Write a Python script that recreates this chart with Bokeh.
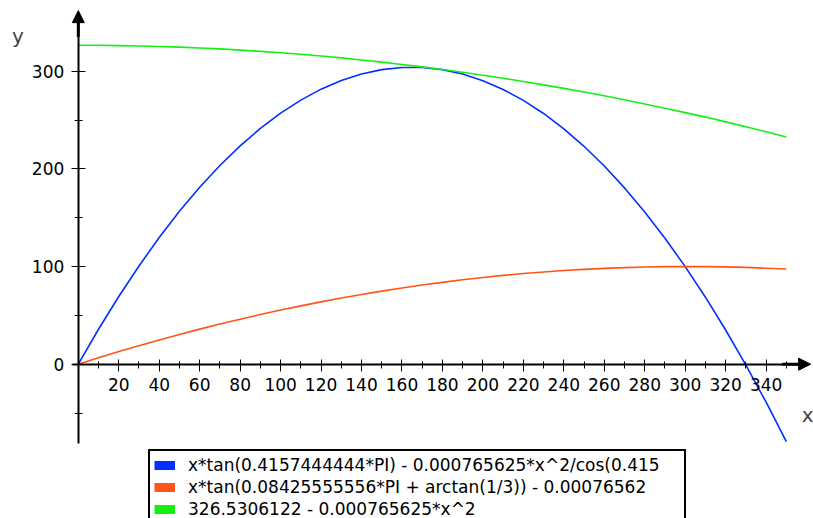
from bokeh.plotting import figure
from bokeh.models import (FixedTicker, Arrow, NormalHead, Label, Legend,
                          LegendItem, Range1d, LinearAxis)
from bokeh.embed import file_html
from bokeh.resources import INLINE

# ---- data ----
x_vals = [0, 10, 20, 30, 40, 50, 60, 70, 80, 90, 100, 110, 120, 130, 140, 150,
          160, 170, 180, 190, 200, 210, 220, 230, 240, 250, 260, 270, 280, 290,
          300, 310, 320, 330, 340, 350]
blue_vals = [0, 35.8, 69.3, 100.6, 129.7, 156.5, 181.1, 203.4, 223.5, 241.4,
             257.0, 270.4, 281.6, 290.5, 297.2, 301.6, 303.8, 303.8, 301.6,
             297.1, 290.3, 281.3, 270.1, 256.7, 241.0, 223.1, 202.9, 180.5,
             155.9, 129.0, 99.9, 68.6, 35.0, -0.9, -38.9, -79.2]
orange_vals = [0, 6.5, 12.9, 18.9, 24.8, 30.5, 35.9, 41.1, 46.1, 50.9, 55.4,
               59.7, 63.8, 67.7, 71.4, 74.8, 78.1, 81.1, 83.8, 86.4, 88.7,
               90.9, 92.8, 94.4, 95.9, 97.1, 98.1, 98.9, 99.5, 99.9, 100.0,
               99.9, 99.6, 99.1, 98.3, 97.4]
green_vals = [326.5, 326.5, 326.2, 325.8, 325.3, 324.6, 323.8, 322.8, 321.6,
              320.3, 318.9, 317.3, 315.5, 313.6, 311.5, 309.3, 306.9, 304.4,
              301.7, 298.9, 295.9, 292.8, 289.5, 286.0, 282.4, 278.7, 274.8,
              270.7, 266.5, 262.1, 257.6, 253.0, 248.1, 243.2, 238.0, 232.7]
legend_labels = [
    "x*tan(0.4157444444*PI) - 0.000765625*x^2/cos(0.415",
    "x*tan(0.08425555556*PI + arctan(1/3)) - 0.00076562",
    "326.5306122 - 0.000765625*x^2",
]
x_ticks = [20, 40, 60, 80, 100, 120, 140, 160, 180, 200, 220, 240, 260, 280,
           300, 320, 340]
x_minor = [10, 30, 50, 70, 90, 110, 130, 150, 170, 190, 210, 230, 250, 270,
           290, 310, 330, 350]
y_ticks = [0, 100, 200, 300]
y_minor = [-50, 50, 150, 250]

colors = ["#0030ff", "#ff5514", "#14f014"]
FONT = "DejaVu Sans"

# ---- layout ----
W, H = 813, 518
X0, XS = 77.8, 2.023      # pixel of x=0, px per unit
Y0, YS = 363.7, 0.9767    # pixel of y=0, px per unit
x_range = Range1d(-X0 / XS, (W - X0) / XS)
y_range = Range1d((Y0 - H) / YS, Y0 / YS)

p = figure(width=W, height=H, x_range=x_range, y_range=y_range,
           output_backend="svg", toolbar_location=None,
           x_axis_type=None, y_axis_type=None,
           min_border=0)
p.outline_line_color = None
p.background_fill_color = "white"
p.border_fill_color = "white"

axis_style = dict(axis_line_width=2, axis_line_color="black",
                  major_tick_line_color="black", minor_tick_line_color="black",
                  major_tick_line_width=1, minor_tick_line_width=1,
                  major_label_text_font=FONT, major_label_text_font_size="17px",
                  major_label_text_color="black")

xaxis = LinearAxis(ticker=FixedTicker(ticks=x_ticks, minor_ticks=x_minor),
                   fixed_location=0, bounds=(-3, 356),
                   major_tick_in=5, major_tick_out=7,
                   minor_tick_in=3, minor_tick_out=4,
                   major_label_standoff=7, **axis_style)
yaxis = LinearAxis(ticker=FixedTicker(ticks=y_ticks, minor_ticks=y_minor),
                   fixed_location=0, bounds=(-81, 350),
                   major_tick_in=7, major_tick_out=7,
                   minor_tick_in=4, minor_tick_out=4,
                   major_label_standoff=7, **axis_style)
p.add_layout(xaxis, "below")
p.add_layout(yaxis, "left")

# axis arrows
p.add_layout(Arrow(end=NormalHead(size=12, fill_color="black", line_color="black"),
                   x_start=0, y_start=335, x_end=0, y_end=362,
                   line_width=3, line_color="black"))
p.add_layout(Arrow(end=NormalHead(size=12, fill_color="black", line_color="black"),
                   x_start=348, y_start=0, x_end=362, y_end=0,
                   line_width=3, line_color="black"))

# axis names
p.add_layout(Label(x=-29.8, y=336, text="y", text_font=FONT,
                   text_font_size="20px", text_align="center",
                   text_baseline="middle"))
p.add_layout(Label(x=360.5, y=-52.5, text="x", text_font=FONT,
                   text_font_size="20px", text_align="center",
                   text_baseline="middle"))

# curves
p.line(x_vals, blue_vals, line_color=colors[0], line_width=1.6)
p.line(x_vals, orange_vals, line_color=colors[1], line_width=1.6)
p.line(x_vals, green_vals, line_color=colors[2], line_width=1.6)

# legend swatches (renderers with no visible data, drawn only in the legend)
nan = float("nan")
swatches = [p.line(x=[nan], y=[nan], line_color=c, line_width=9,
                   line_cap="butt") for c in colors]
legend = Legend(items=[LegendItem(label=lab, renderers=[r])
                       for lab, r in zip(legend_labels, swatches)],
                location=(148, -7), orientation="vertical",
                padding=4, spacing=2, margin=0,
                glyph_width=21, glyph_height=20, label_height=20,
                label_standoff=13, label_width=492,
                label_text_font=FONT, label_text_font_size="17px",
                label_text_color="black",
                border_line_color="black", border_line_width=2,
                border_line_alpha=1.0,
                background_fill_color="white", background_fill_alpha=1.0)
p.add_layout(legend, "center")

open("out.html", "w").write(file_html(p, INLINE))
